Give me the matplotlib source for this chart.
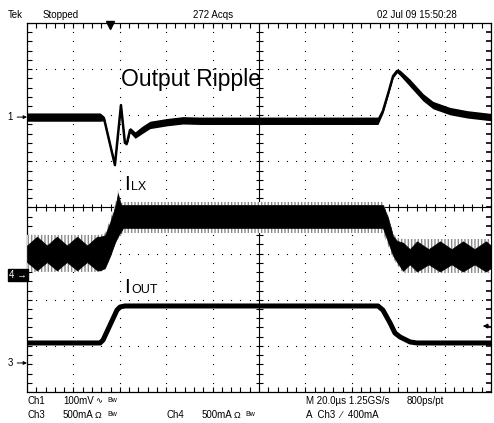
import matplotlib.pyplot as plt
import numpy as np

W, H = 494, 423
# screen: 10 x 8 divisions, 20 us/div
t_div = 20.0

# Ch1: output ripple, mV (100 mV/div), marker at 5.96 div
ch1_off, ch1_scale = 5.96, 100.0
ch1_t = [0, 31.5, 33.2, 35.8, 37.9, 39.2, 40.5, 42.2, 43.1, 44.4, 46.6, 49.6, 53.0,
         60.3, 67.2, 74.6, 151.3, 153.4, 155.6, 157.8, 159.5, 160.8, 165.1, 170.7,
         175.0, 182.3, 189.7, 200]
ch1_mv = [0, 0, -3, -59, -104, -39, 26, -56, -56, -28, -39, -28, -17,
          -11, -7, -8, -8, 13, 50, 89, 100, 96, 74, 43,
          26, 13, 6, 0]
ch1_noise = [9, 9, 5, 3, 3, 3, 3, 4, 4, 6, 7, 8, 8,
             8, 8, 8, 8, 5, 4, 4, 4, 6, 8, 8,
             8, 8, 8, 8]

# Ch3: I_OUT, mA (500 mA/div), marker at 0.629 div
ch3_off, ch3_scale = 0.629, 500.0
iout_t = [0, 31.5, 32.8, 35.8, 38.8, 40.1, 42.2, 151.3, 153.4, 156.5, 158.6, 160.8, 165.1, 168.1, 200]
iout_ma = [217, 217, 249, 412, 574, 607, 618, 618, 574, 434, 325, 282, 228, 217, 217]
trig_t, trig_ma = 35.8, 400

# Ch4: I_LX, mA (500 mA/div), marker at 2.537 div
ch4_off, ch4_scale = 2.537, 500.0
# outer (grey) envelope
ilx_t = [0, 31.5, 33.6, 35.8, 37.9, 39.2, 40.5, 41.4, 42.2, 153.4, 155.6, 157.8, 159.5,
         162.1, 165.1, 200]
ilx_hi = [434, 434, 455, 596, 759, 921, 780, 791, 791, 791, 650, 450, 401, 390, 390, 390]
ilx_lo = [33, 33, 54, 184, 325, 390, 434, 455, 455, 455, 320, 180, 108, 22, 22, 22]
# dense (black) part, with the beat pattern in the low-load parts
core_t = [0, 4.3, 8.6, 12.9, 17.2, 21.6, 25.9, 30.2, 31.5, 33.6, 35.8, 37.9, 39.2, 40.5,
          41.4, 42.2, 153.4, 155.6, 157.8, 159.5, 162.1, 165.0, 168.1, 173.1, 178.0,
          183.0, 187.9, 192.9, 197.8, 200]
core_hi = [320, 415, 320, 415, 320, 415, 320, 415, 415, 430, 570, 730, 880, 759,
           759, 759, 759, 620, 420, 370, 350, 280, 365, 280, 365,
           280, 365, 280, 365, 320]
core_lo = [140, 50, 140, 50, 140, 50, 140, 50, 50, 76, 205, 350, 420, 470,
           510, 510, 510, 360, 210, 140, 45, 115, 38, 115, 38,
           115, 38, 115, 38, 75]


def to_div(v, off, scale):
    return off + np.asarray(v, float) / scale


fig = plt.figure(figsize=(W / 100, H / 100), dpi=100)
ax = fig.add_axes([27 / W, 31 / H, 464 / W, 369 / H])
ax.set_xlim(0, 10 * t_div)
ax.set_ylim(0, 8)
ax.set_xticks([])
ax.set_yticks([])
for s in ax.spines.values():
    s.set_linewidth(0.9)

# graticule dots
px_x = 10 * t_div / 464
px_y = 8 / 369
fine_x = np.arange(0, 10 * t_div + 0.1, t_div / 5)
fine_y = np.arange(0, 8.01, 0.2)
for i in range(1, 10):
    if i != 5:
        ax.plot(np.full_like(fine_y, i * t_div), fine_y, ls='none', marker='s', ms=0.8, mew=0, color='k')
for j in range(1, 8):
    if j != 4:
        ax.plot(fine_x, np.full_like(fine_x, j), ls='none', marker='s', ms=0.8, mew=0, color='k')
# center cross + ticks
ax.axvline(5 * t_div, color='k', lw=0.8)
ax.axhline(4, color='k', lw=0.8)
ax.hlines(fine_y, 5 * t_div - 3.5 * px_x, 5 * t_div + 3.5 * px_x, color='k', lw=0.8)
ax.vlines(fine_x, 4 - 3.5 * px_y, 4 + 3.5 * px_y, color='k', lw=0.8)
# border ticks
ax.vlines(fine_x, 8 - 5 * px_y, 8, color='k', lw=0.8)
ax.vlines(fine_x, 0, 5 * px_y, color='k', lw=0.8)
ax.hlines(fine_y, 0, 5 * px_x, color='k', lw=0.8)
ax.hlines(fine_y, 10 * t_div - 5 * px_x, 10 * t_div, color='k', lw=1.2)

# Ch4 inductor current band
ax.fill_between(ilx_t, to_div(ilx_lo, ch4_off, ch4_scale), to_div(ilx_hi, ch4_off, ch4_scale),
                facecolor='white', edgecolor='#8a8a8a', hatch='|||||', lw=0, zorder=3)
ax.fill_between(core_t, to_div(core_lo, ch4_off, ch4_scale), to_div(core_hi, ch4_off, ch4_scale),
                color='k', lw=0.5, zorder=4)

# Ch1 ripple
c1 = to_div(ch1_mv, ch1_off, ch1_scale)
n1 = np.asarray(ch1_noise) / ch1_scale
ax.fill_between(ch1_t, c1 - n1, c1 + n1, color='k', lw=0, zorder=5)
ax.plot(ch1_t, c1, color='k', lw=1.8, zorder=5)

# Ch3 output current
ax.plot(iout_t, to_div(iout_ma, ch3_off, ch3_scale), color='k', lw=3.6, zorder=5,
        solid_joinstyle='round')

# trigger markers
ax.plot([trig_t], [8 - 2 * px_y], marker='v', ms=6, color='k', clip_on=False, zorder=6)
lvl = to_div(trig_ma, ch3_off, ch3_scale)
ax.annotate('', xy=(10 * t_div - 11 * px_x, lvl), xytext=(10 * t_div + 1 * px_x, lvl),
            arrowprops=dict(arrowstyle='-|>', color='k', lw=0.8, mutation_scale=7), zorder=6)

# channel markers
ui = dict(family=['Liberation Sans Narrow', 'Liberation Sans', 'DejaVu Sans'], fontsize=7)
for lab, off in [('1', ch1_off), ('3', ch3_off)]:
    ax.annotate(lab, xy=(0, off), xytext=(-14, 0), textcoords='offset pixels',
                ha='right', va='center', annotation_clip=False,
                arrowprops=dict(arrowstyle='-|>', color='k', lw=0.7, mutation_scale=5,
                                shrinkA=1, shrinkB=0), **ui)
y4 = 1 - (392 - ch4_off * 369 / 8) / H
fig.text(9 / W, y4, '4 \u2192', color='white', va='center', ha='left',
         bbox=dict(facecolor='k', edgecolor='k', pad=0.5), **ui)

# screen labels
big = dict(family=['Liberation Sans', 'DejaVu Sans'], color='k')
fig.text(121 / W, 1 - 86 / H, 'Output Ripple', fontsize=16.5, va='baseline', **big)
fig.text(124 / W, 1 - 190 / H, 'I', fontsize=15, va='baseline', **big)
fig.text(131 / W, 1 - 190 / H, 'LX', fontsize=9, va='baseline', **big)
fig.text(124 / W, 1 - 293 / H, 'I', fontsize=15, va='baseline', **big)
fig.text(131 / W, 1 - 293 / H, 'OUT', fontsize=9, va='baseline', **big)


# header / footer
def put(x, y, s, **kw):
    fig.text(x / W, 1 - y / H, s, va='center', ha='left', **{**ui, **kw})


put(8, 15, 'Tek')
put(43, 15, 'Stopped')
put(193, 15, '272 Acqs')
put(377, 15, '02 Jul 09 15:50:28')

put(27, 401, 'Ch1')
put(63, 401, '100mV')
put(95, 401, '\u223f', family=['DejaVu Sans'], fontsize=6)
put(107, 400, 'Bw', fontsize=5)
put(306, 401, 'M 20.0\u00b5s 1.25GS/s')
put(407, 401, '800ps/pt')
put(27, 415, 'Ch3')
put(63, 415, '500mA')
put(95, 415, '\u03a9', fontsize=6.5)
put(107, 414, 'Bw', fontsize=5)
put(166, 415, 'Ch4')
put(202, 415, '500mA')
put(234, 415, '\u03a9', fontsize=6.5)
put(245, 414, 'Bw', fontsize=5)
put(306, 415, 'A  Ch3  \u2215  400mA')

fig.savefig('out.png', dpi=100)
